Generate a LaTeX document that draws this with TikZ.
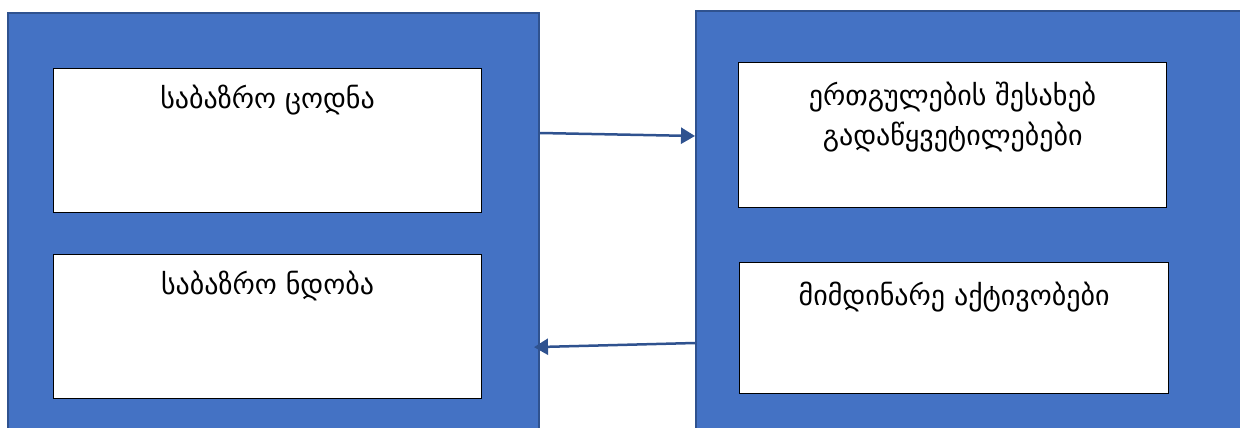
\documentclass[tikz,border=0pt]{standalone}
\usepackage{fontspec}
\newfontfamily\geofont{DejaVu Sans}
\usetikzlibrary{positioning}
\usetikzlibrary{arrows.meta}
\definecolor{panelblue}{HTML}{4472C4}
\definecolor{edgeblue}{HTML}{2F528F}

\tikzset{
  panel/.style = {draw=edgeblue, line width=2pt, fill=panelblue, anchor=north west, inner sep=0},
  whitebox/.style = {draw=black, line width=1.2pt, fill=white, anchor=north west, inner sep=0},
  boxtext/.style = {anchor=north, align=center, inner sep=0, font=\geofont\fontsize{28}{40}\selectfont},
  link/.style = {draw=edgeblue, line width=2.5pt, -{Triangle[length=14pt,width=16pt]}}
}

\begin{document}
\begin{tikzpicture}[x=1pt, y=-1pt]
  \useasboundingbox (0,0) rectangle (1240,428);
  \clip (0,0) rectangle (1240,428);

  % the two panels
  \node[panel, minimum width=531pt, minimum height=440pt] (leftpanel) at (7,12) {};
  \node[panel, minimum width=560pt, minimum height=440pt] (rightpanel) at (695,10) {};

  % boxes in the left panel
  \node[whitebox, minimum width=428pt, minimum height=144pt] (knowledge) at (53,68) {};
  \node[whitebox, minimum width=428pt, minimum height=144pt] (trust) at (53,254) {};

  % boxes in the right panel
  \node[whitebox, minimum width=428pt, minimum height=145pt] (decisions) at (738,62) {};
  \node[whitebox, minimum width=429pt, minimum height=131pt] (activations) at (739,262) {};

  % texts
  \node[boxtext, below=17pt of knowledge.north] (knowledgetext) {საბაზრო ცოდნა};
  \node[boxtext, below=17pt of trust.north] (trusttext) {საბაზრო ნდობა};
  \node[boxtext, below=20pt of decisions.north] (decisionstext) {ერთგულების შესახებ\\გადაწყვეტილებები};
  \node[boxtext, below=20pt of activations.north] (activationstext) {მიმდინარე აქტივობები};

  % arrows between the panels
  \draw[link] (leftpanel.east |- {(0,133)}) -- (rightpanel.west |- {(0,136)});
  \draw[link, shorten >=-6pt] (rightpanel.west |- {(0,343)}) -- (leftpanel.east |- {(0,347)});
\end{tikzpicture}
\end{document}
